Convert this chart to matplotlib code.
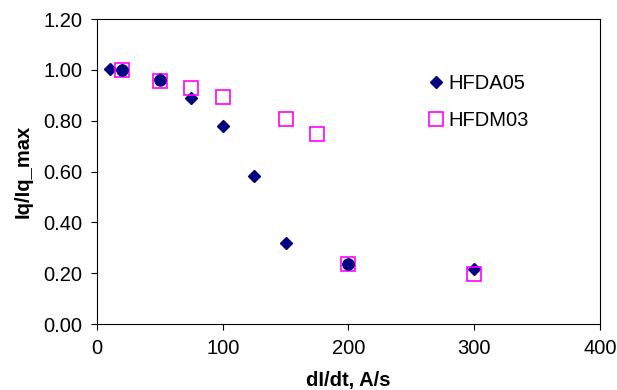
import matplotlib
matplotlib.use("Agg")
import matplotlib.pyplot as plt

plt.rcParams['font.family'] = ['Liberation Sans', 'DejaVu Sans']

# data
hfda05_x = [10, 20, 50, 75, 100, 125, 150, 200, 300]
hfda05_y = [1.005, 1.00, 0.965, 0.89, 0.778, 0.583, 0.318, 0.238, 0.216]

hfdm03_x = [20, 50, 75, 100, 150, 175, 200, 300]
hfdm03_y = [0.999, 0.957, 0.927, 0.893, 0.805, 0.749, 0.236, 0.197]

extra_x = [20, 50, 200]
extra_y = [1.00, 0.96, 0.237]

FS = 14.5

fig = plt.figure(figsize=(6.17, 3.9), dpi=100)
ax = fig.add_axes([0.1572, 0.1692, 0.8152, 0.782])

ax.plot(hfdm03_x, hfdm03_y, 's', ms=9.5, mfc='none', mec='#ff00ff', mew=1.2,
        label='HFDM03', zorder=3)
ax.plot(hfda05_x, hfda05_y, 'D', ms=6.3, color='#000080', label='HFDA05', zorder=2)
ax.plot(extra_x, extra_y, 'o', ms=8.0, color='#000080', zorder=4)

ax.set_xlim(0, 400)
ax.set_ylim(0, 1.2)
ax.set_xticks([0, 100, 200, 300, 400])
ax.set_yticks([0, 0.2, 0.4, 0.6, 0.8, 1.0, 1.2])
ax.set_yticklabels(['%.2f' % v for v in ax.get_yticks()])
ax.tick_params(labelsize=FS, direction='out', length=4.5, width=0.8)
ax.tick_params(axis='y', pad=6)
ax.tick_params(axis='x', pad=6)

ax.set_xlabel('dI/dt, A/s', fontsize=FS, fontweight='bold', labelpad=10)
ax.set_ylabel('Iq/Iq_max', fontsize=FS, fontweight='bold', labelpad=8)

h, l = ax.get_legend_handles_labels()
ax.legend([h[1], h[0]], [l[1], l[0]], loc='center left',
          bbox_to_anchor=(0.654, 0.727), frameon=False, fontsize=FS,
          borderpad=0, borderaxespad=0,
          handletextpad=0.1, labelspacing=0.9, handlelength=1.0)

fig.savefig('out.png', dpi=100)
